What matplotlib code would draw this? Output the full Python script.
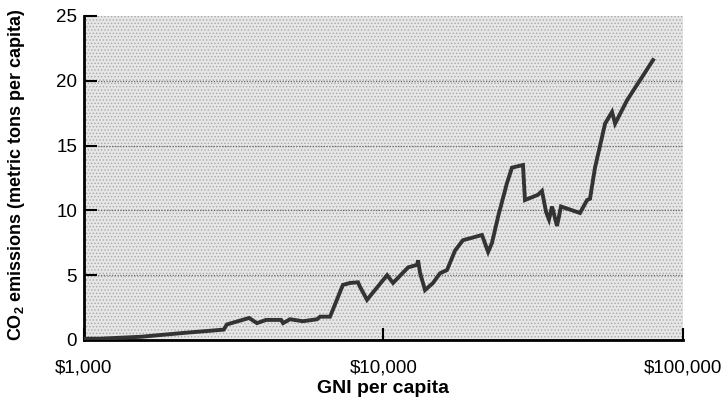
import numpy as np
from matplotlib import pyplot as plt
import matplotlib
from matplotlib.patches import Rectangle

plt.rcParams['font.family'] = ['Liberation Sans', 'DejaVu Sans']
plt.rcParams['mathtext.fontset'] = 'custom'
plt.rcParams['mathtext.rm'] = 'Liberation Sans'
plt.rcParams['mathtext.bf'] = 'Liberation Sans:bold'
plt.rcParams['hatch.linewidth'] = 0.6

# GNI per capita (US$) and CO2 emissions (metric tons per capita)
gni = [1000, 1130, 1550, 2160, 2930, 3000, 3560, 3780, 4050, 4550, 4620, 4870,
       5380, 6000, 6140, 6630, 7320, 7730, 8220, 8350, 8810, 10280, 10760,
       12080, 12950, 13040, 13240, 13760, 14630, 15450, 16300, 17330, 18420,
       21320, 22350, 23030, 24120, 25830, 26850, 29220, 29670, 32780, 33810,
       34880, 35690, 36530, 37960, 39140, 45290, 47830, 48920, 50840, 54930,
       57940, 59330, 65030, 79430]
co2 = [0.1, 0.1, 0.25, 0.55, 0.8, 1.2, 1.7, 1.3, 1.55, 1.55, 1.3, 1.6,
       1.45, 1.6, 1.8, 1.8, 4.25, 4.4, 4.45, 4.1, 3.1, 5.0, 4.4,
       5.6, 5.8, 6.15, 5.2, 3.85, 4.4, 5.15, 5.4, 6.9, 7.7,
       8.1, 6.8, 7.5, 9.5, 12.1, 13.3, 13.5, 10.8, 11.2, 11.5,
       9.9, 9.3, 10.3, 8.8, 10.3, 9.8, 10.8, 10.9, 13.3, 16.7,
       17.6, 16.7, 18.5, 21.6]

xticks = [1000, 10000, 100000]
xticklabels = ["$1,000", "$10,000", "$100,000"]
yticks = [0, 5, 10, 15, 20, 25]

fig = plt.figure(figsize=(7.27, 4.05), dpi=100)
ax = fig.add_axes([0.1155, 0.1605, 0.8240, 0.8000])
ax.set_facecolor('#e6e6e6')

# stippled look of the background
ax.add_patch(Rectangle((0, 0), 1, 1, transform=ax.transAxes, facecolor='none',
                       edgecolor='#a8a8a8', hatch='.....', lw=0, zorder=0))

for yv in [5, 10, 15, 20]:
    ax.axhline(yv, color='#6a6a6a', lw=0.9, ls=(0, (1, 1.2)), zorder=1)

ax.plot(gni, co2, color='#333333', lw=2.8, solid_joinstyle='miter', zorder=3)

ax.set_xscale('log')
ax.set_xlim(1000, 100000)
ax.set_ylim(0, 25)
ax.set_xticks(xticks)
ax.set_xticklabels(xticklabels)
ax.xaxis.set_minor_locator(matplotlib.ticker.NullLocator())
ax.set_yticks(yticks)

for s in ['top', 'right']:
    ax.spines[s].set_visible(False)
for s in ['left', 'bottom']:
    ax.spines[s].set_linewidth(2)
    ax.spines[s].set_color('black')

ax.tick_params(axis='both', direction='in', length=9, width=1.5, labelsize=13.5, colors='black')
ax.tick_params(axis='x', pad=14)
ax.tick_params(axis='y', pad=5)

ax.set_xlabel("GNI per capita", fontsize=14, fontweight='bold')
ax.xaxis.set_label_coords(0.5, -0.125)
ax.set_ylabel(r"CO$_{\mathbf{2}}$ emissions (metric tons per capita)", fontsize=13, fontweight='bold')
ax.yaxis.set_label_coords(-0.095, 0.51)

fig.savefig("out.png", dpi=100)
